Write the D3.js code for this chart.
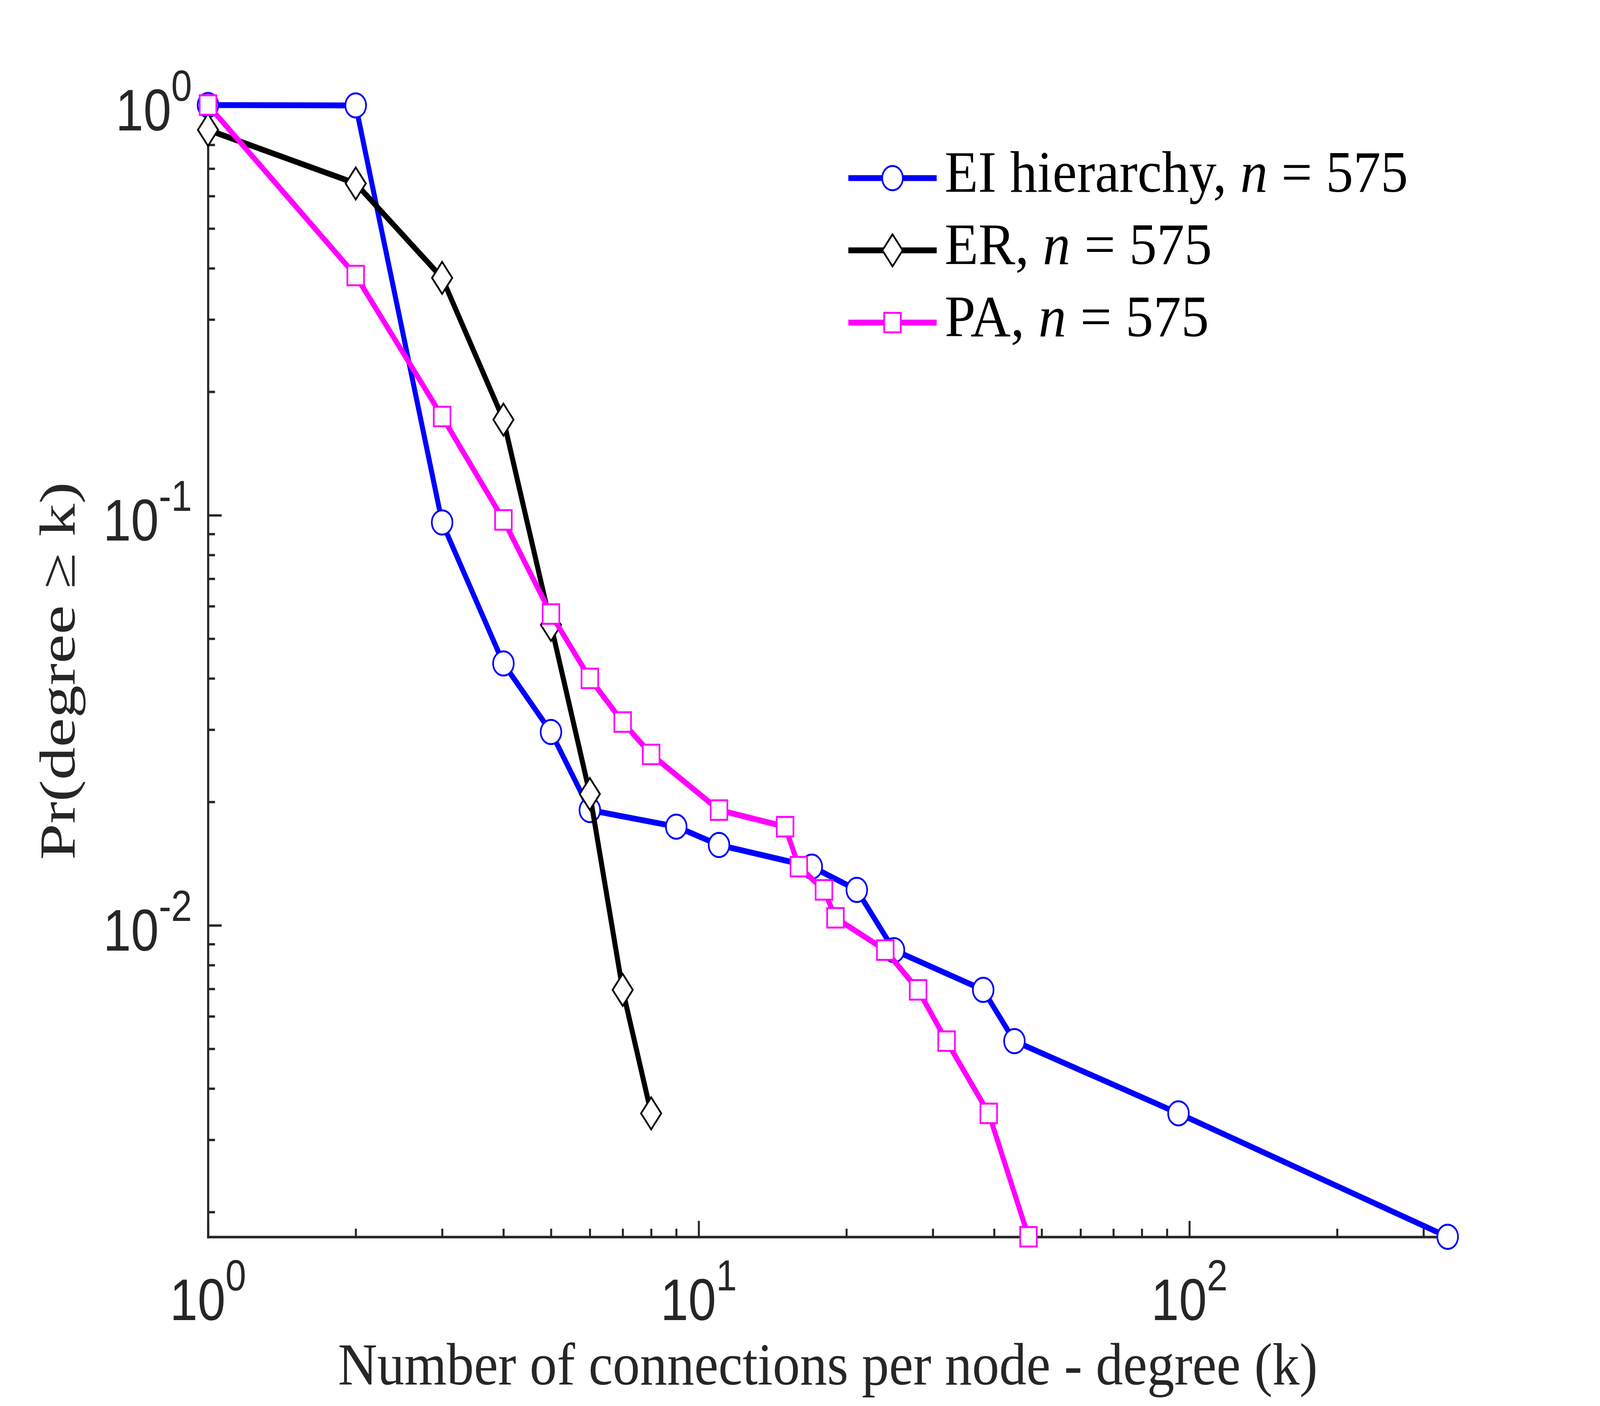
<!DOCTYPE html>
<html>
<head>
<meta charset="utf-8">
<script src="https://cdnjs.cloudflare.com/ajax/libs/d3/7.8.5/d3.min.js"></script>
<style>
  html, body { margin: 0; padding: 0; background: #ffffff; overflow: hidden; }
  #chart svg { display: block; width: 100vw; height: 100vh; }
</style>
</head>
<body>
<div id="chart"></div>
<script>
// Data
// ===========================
var nodeCount = 575;
var seriesNames = ["EI hierarchy", "ER", "PA"];

// EI hierarchy (blue circles)
var eiDegree = [1, 2, 3, 4, 5, 6, 9, 11, 17, 21, 25, 38, 44, 95, 336];
var eiProb = [1, 0.998, 0.096, 0.0435, 0.0296, 0.0191, 0.0174, 0.0157, 0.0139,
  0.0122, 0.0087, 0.00696, 0.00522, 0.00348, 0.00174];

// ER (black diamonds)
var erDegree = [1, 2, 3, 4, 5, 6, 7, 8];
var erProb = [0.87, 0.644, 0.379, 0.171, 0.054, 0.0209, 0.00696, 0.00348];

// PA (magenta squares)
var paDegree = [1, 2, 3, 4, 5, 6, 7, 8, 11, 15, 16, 18, 19, 24, 28, 32, 39, 47];
var paProb = [1, 0.384, 0.174, 0.0974, 0.0574, 0.04, 0.0313, 0.0261, 0.0191,
  0.0174, 0.0139, 0.0122, 0.01043, 0.0087, 0.00696, 0.00522, 0.00348, 0.00174];

// Labelled decades on each axis
var xMajorTicks = [1, 10, 100];
var yMajorTicks = [1, 0.1, 0.01];

var xTitle = "Number of connections per node - degree (k)";
var yTitle = "Pr(degree \u2265 k)";

// Canvas setup
// ===========================
// Everything is laid out in a 4800 x 3600 box; the viewBox stretches it
// over the whole window so the picture is filled edge to edge.
var width = 4800;
var height = 3600;
var plotLeft = 624, plotRight = 4343, plotTop = 269, plotBottom = 3167;

var axisColor = "#262626";
var tickFont = "'Liberation Sans', Arial, Helvetica, sans-serif";
var serifFont = "'Liberation Serif', 'Times New Roman', serif";

var svg = d3
  .select("#chart")
  .append("svg")
  .attr("viewBox", "0 0 " + width + " " + height)
  .attr("preserveAspectRatio", "none")
  .style("background", "#ffffff");

// Scales (log on both axes)
var xScale = d3
  .scaleLog()
  .domain([1, d3.max(eiDegree)])
  .range([plotLeft, plotRight]);
var yScale = d3
  .scaleLog()
  .domain([1 / nodeCount, 1])
  .range([plotBottom, plotTop]);

function isMajor(v) {
  var l = Math.log10(v);
  return Math.abs(l - Math.round(l)) < 1e-9;
}

// Axes
// ===========================
var majorLen = 41, minorLen = 21;

var xAxis = d3.axisBottom(xScale)
  .tickValues(xScale.ticks())
  .tickSizeInner(-minorLen)
  .tickSizeOuter(0)
  .tickFormat("");
var gx = svg.append("g")
  .attr("transform", "translate(0," + plotBottom + ")")
  .call(xAxis);

var yAxis = d3.axisLeft(yScale)
  .tickValues(yScale.ticks())
  .tickSizeInner(-minorLen)
  .tickSizeOuter(0)
  .tickFormat("");
var gy = svg.append("g")
  .attr("transform", "translate(" + plotLeft + ",0)")
  .call(yAxis);

gx.selectAll(".tick line").attr("y2", function(d) {
  return isMajor(d) ? -majorLen : -minorLen;
});
gy.selectAll(".tick line").attr("x2", function(d) {
  return isMajor(d) ? majorLen : minorLen;
});
[gx, gy].forEach(function(g) {
  g.selectAll(".tick line").attr("stroke", axisColor).attr("stroke-width", 6);
  g.select(".domain").attr("stroke", axisColor).attr("stroke-width", 6.5)
    .attr("stroke-linecap", "square");
  g.selectAll("text").remove();
});

// Power-of-ten tick labels
function powerLabel(sel, exponent) {
  sel.append("tspan").attr("font-size", 150).text("10");
  sel.append("tspan").attr("font-size", 112).attr("dy", -76).text(exponent);
}

xMajorTicks.forEach(function(v) {
  var t = svg.append("text")
    .attr("x", xScale(v))
    .attr("y", 3380)
    .attr("text-anchor", "middle")
    .attr("fill", axisColor)
    .attr("font-family", tickFont);
  powerLabel(t, Math.round(Math.log10(v)));
});

yMajorTicks.forEach(function(v) {
  var t = svg.append("text")
    .attr("x", 576)
    .attr("y", yScale(v) + 65)
    .attr("text-anchor", "end")
    .attr("fill", axisColor)
    .attr("font-family", tickFont);
  powerLabel(t, Math.round(Math.log10(v)));
});

// Axis titles
svg.append("text")
  .attr("x", (plotLeft + plotRight) / 2)
  .attr("y", 3545)
  .attr("text-anchor", "middle")
  .attr("font-family", serifFont)
  .attr("font-size", 152)
  .attr("fill", axisColor)
  .attr("textLength", 2939)
  .attr("lengthAdjust", "spacingAndGlyphs")
  .text(xTitle);

svg.append("text")
  .attr("transform", "translate(224," + (plotTop + plotBottom) / 2 + ") rotate(-90)")
  .attr("text-anchor", "middle")
  .attr("font-family", serifFont)
  .attr("font-size", 152)
  .attr("fill", axisColor)
  .attr("textLength", 968)
  .attr("lengthAdjust", "spacingAndGlyphs")
  .text(yTitle);

// Markers
// ===========================
// MATLAB's diamond is a bit wider than d3.symbolDiamond
var wideDiamond = {
  draw: function(context, size) {
    var h = Math.sqrt(size);
    var w = h * 0.74;
    context.moveTo(0, -h);
    context.lineTo(w, 0);
    context.lineTo(0, h);
    context.lineTo(-w, 0);
    context.closePath();
  }
};

var series = [
  { name: seriesNames[0], k: eiDegree, p: eiProb, color: "#0000ff",
    symbol: d3.symbol().type(d3.symbolCircle).size(Math.PI * 31 * 31) },
  { name: seriesNames[1], k: erDegree, p: erProb, color: "#000000",
    symbol: d3.symbol().type(wideDiamond).size(41 * 41) },
  { name: seriesNames[2], k: paDegree, p: paProb, color: "#ff00ff",
    symbol: d3.symbol().type(d3.symbolSquare).size(50 * 50) }
];

var line = d3.line()
  .x(function(d) { return xScale(d.k); })
  .y(function(d) { return yScale(d.p); });

// Each series draws its line and then its markers, in order
series.forEach(function(s) {
  var pts = s.k.map(function(k, i) {
    return { k: k, p: s.p[i] };
  });

  svg.append("path")
    .datum(pts)
    .attr("d", line)
    .attr("fill", "none")
    .attr("stroke", s.color)
    .attr("stroke-width", 15)
    .attr("stroke-linejoin", "round");

  svg.append("g")
    .selectAll("path")
    .data(pts)
    .enter()
    .append("path")
    .attr("transform", function(d) {
      return "translate(" + xScale(d.k) + "," + yScale(d.p) + ")";
    })
    .attr("d", s.symbol)
    .attr("fill", "#ffffff")
    .attr("stroke", s.color)
    .attr("stroke-width", 5);
});

// Legend
// ===========================
var legendX0 = 2545, legendX1 = 2810, legendTextX = 2834;
var legendRows = [456, 641, 826];
var legendTextWidths = [1390, 802, 793];

series.forEach(function(s, i) {
  var rowY = legendRows[i];
  var g = svg.append("g");

  g.append("line")
    .attr("x1", legendX0)
    .attr("x2", legendX1)
    .attr("y1", rowY)
    .attr("y2", rowY)
    .attr("stroke", s.color)
    .attr("stroke-width", 15);

  g.append("path")
    .attr("transform", "translate(" + (legendX0 + legendX1) / 2 + "," + rowY + ")")
    .attr("d", s.symbol)
    .attr("fill", "#ffffff")
    .attr("stroke", s.color)
    .attr("stroke-width", 5);

  var t = g.append("text")
    .attr("x", legendTextX)
    .attr("y", rowY + 35)
    .attr("font-family", serifFont)
    .attr("font-size", 150)
    .attr("fill", "#000000")
    .attr("textLength", legendTextWidths[i])
    .attr("lengthAdjust", "spacingAndGlyphs");
  t.append("tspan").text(s.name + ", ");
  t.append("tspan").attr("font-style", "italic").text("n");
  t.append("tspan").text(" = " + nodeCount);
});
</script>
</body>
</html>
